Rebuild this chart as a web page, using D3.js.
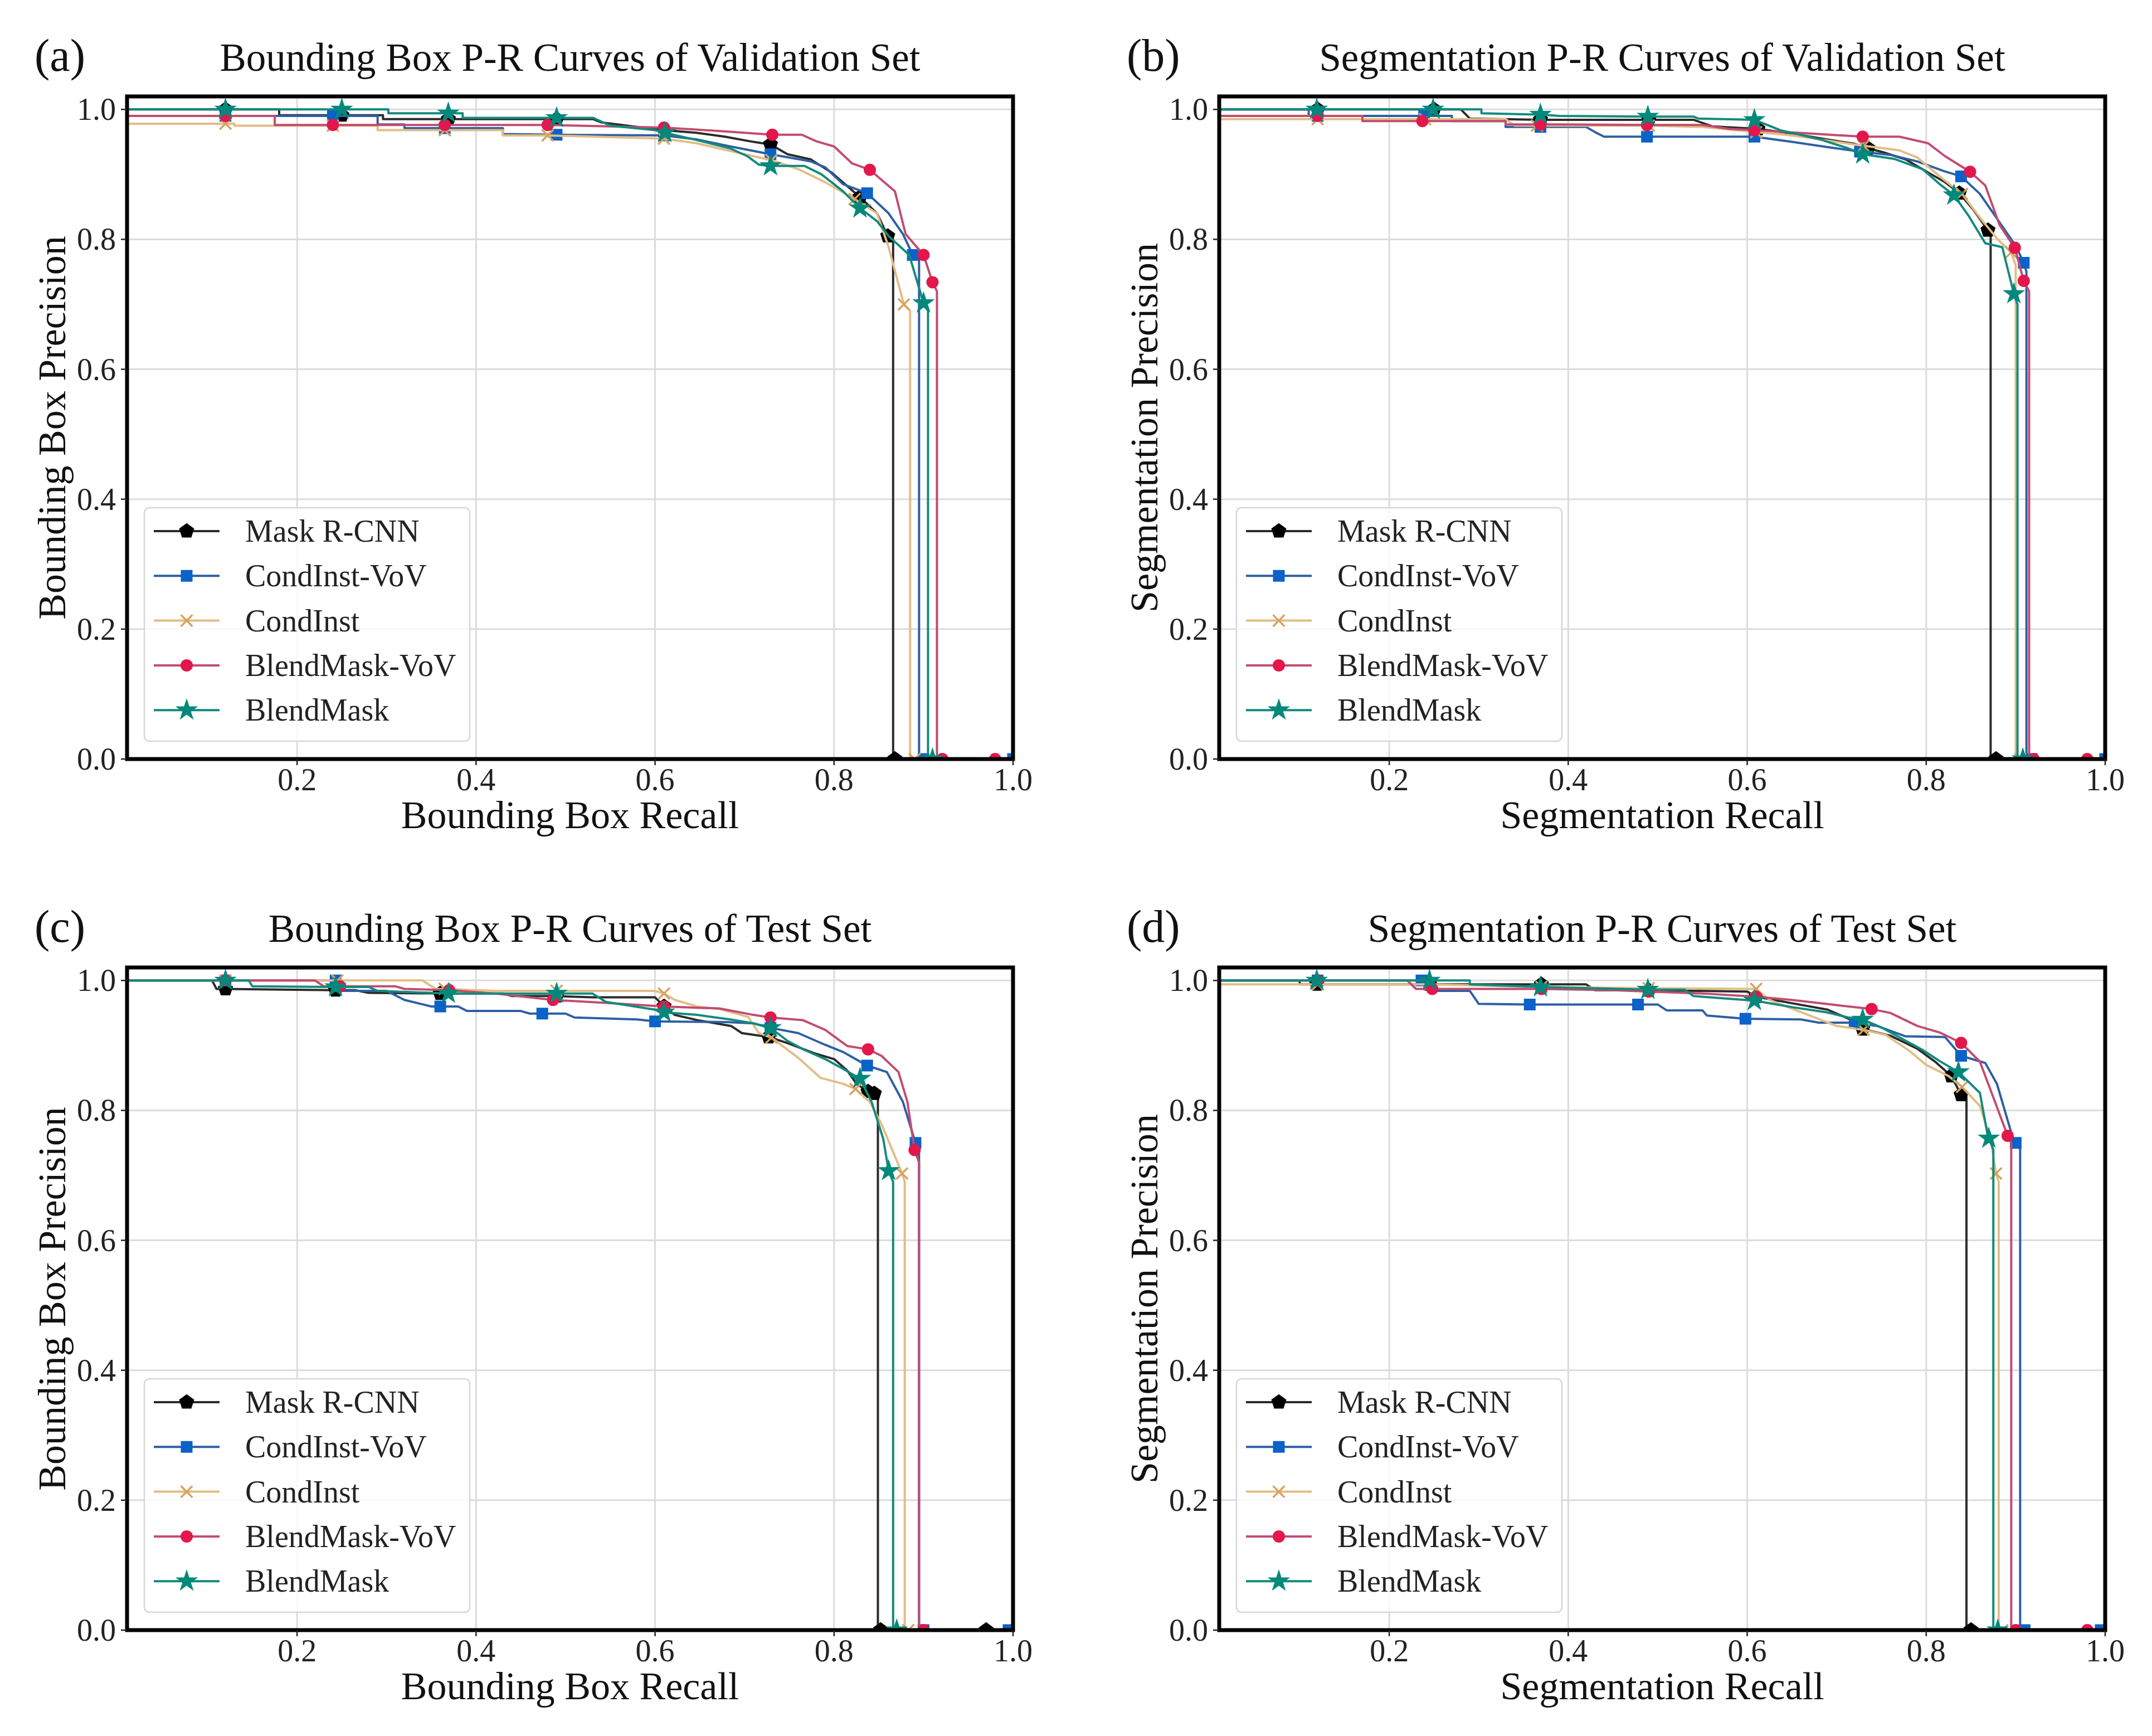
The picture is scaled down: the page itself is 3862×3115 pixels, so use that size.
<!DOCTYPE html>
<html>
<head>
<meta charset="utf-8">
<script src="https://cdn.jsdelivr.net/npm/d3@7"></script>
<style>
  body { margin: 0; background: #fff; }
</style>
</head>
<body>
<div id="chart"></div>
<script>
// labels and ticks
const seriesNames = ["Mask R-CNN", "CondInst-VoV", "CondInst", "BlendMask-VoV", "BlendMask"];
const panelLetters = ["(a)", "(b)", "(c)", "(d)"];
const panelTitles = ["Bounding Box P-R Curves of Validation Set", "Segmentation P-R Curves of Validation Set",
                     "Bounding Box P-R Curves of Test Set", "Segmentation P-R Curves of Test Set"];
const xLabels = ["Bounding Box Recall", "Segmentation Recall", "Bounding Box Recall", "Segmentation Recall"];
const yLabels = ["Bounding Box Precision", "Segmentation Precision", "Bounding Box Precision", "Segmentation Precision"];
const xTicks = [0.2, 0.4, 0.6, 0.8, 1.0];
const yTicks = [0.0, 0.2, 0.4, 0.6, 0.8, 1.0];

// [recall, precision, marker?]  -- (a) bounding box, validation
const bbVal_maskrcnn = [[0.01,1.0],[0.12,1.0,1],[0.18,1.0],[0.18,0.991],[0.25,0.991,1],[0.296,0.991],[0.296,0.985],[0.369,0.985,1],[0.49,0.985,1],[0.531,0.985],[0.54,0.98],[0.563,0.976],[0.61,0.968,1],[0.646,0.964],[0.678,0.958],[0.71,0.95],[0.729,0.946,1],[0.748,0.931],[0.774,0.923],[0.797,0.903],[0.829,0.865,1],[0.848,0.84],[0.86,0.805,1],[0.866,0.8],[0.866,0],[0.868,0,1],[1.0,0]];
const bbVal_condinstvov = [[0.01,0.99],[0.12,0.99,1],[0.24,0.99,1],[0.29,0.99],[0.29,0.977],[0.32,0.977],[0.32,0.971],[0.365,0.971,1],[0.43,0.971],[0.43,0.962],[0.49,0.961,1],[0.61,0.96,1],[0.646,0.954],[0.684,0.943],[0.729,0.931,1],[0.774,0.92],[0.79,0.911],[0.81,0.885],[0.837,0.871,1],[0.861,0.84],[0.877,0.808],[0.888,0.776,1],[0.895,0.77],[0.895,0],[0.9,0,1],[1.0,0,1]];
const bbVal_condinst = [[0.01,0.978],[0.12,0.978,1],[0.13,0.978],[0.13,0.975],[0.24,0.975,1],[0.29,0.975],[0.29,0.968],[0.365,0.968,1],[0.43,0.968],[0.43,0.96],[0.48,0.96,1],[0.61,0.955,1],[0.646,0.948],[0.71,0.928],[0.73,0.922,1],[0.76,0.908],[0.79,0.888],[0.823,0.862,1],[0.848,0.84],[0.861,0.788],[0.878,0.70,1],[0.885,0.69],[0.885,0],[0.89,0,1],[1.0,0]];
const bbVal_blendmaskvov = [[0.01,0.99],[0.12,0.99,1],[0.175,0.99],[0.175,0.976],[0.24,0.976,1],[0.365,0.976,1],[0.48,0.976,1],[0.61,0.972,1],[0.646,0.969],[0.68,0.966],[0.731,0.961,1],[0.764,0.961],[0.78,0.951],[0.80,0.943],[0.82,0.917],[0.84,0.907,1],[0.868,0.874],[0.88,0.808],[0.9,0.776,1],[0.91,0.734,1],[0.915,0.72],[0.915,0],[0.921,0,1],[0.98,0,1],[1.0,0]];
const bbVal_blendmask = [[0.01,1.0],[0.12,1.0,1],[0.25,1.0,1],[0.302,1.0],[0.302,0.994],[0.369,0.994,1],[0.385,0.994],[0.385,0.987],[0.49,0.987,1],[0.531,0.987],[0.55,0.975],[0.6,0.968],[0.611,0.964,1],[0.646,0.953],[0.684,0.94],[0.703,0.928],[0.716,0.915],[0.729,0.913,1],[0.767,0.913],[0.786,0.9],[0.81,0.874],[0.829,0.848,1],[0.848,0.828],[0.861,0.805],[0.884,0.776],[0.9,0.702,1],[0.905,0.69],[0.905,0],[0.91,0,1],[1.0,0]];

// (b) segmentation, validation
const segVal_maskrcnn = [[0.01,1.0],[0.12,1.0,1],[0.25,1.0,1],[0.28,1.0],[0.29,0.986],[0.369,0.984,1],[0.49,0.984,1],[0.54,0.984],[0.561,0.974],[0.612,0.97,1],[0.65,0.963],[0.688,0.954],[0.72,0.947],[0.735,0.94,1],[0.752,0.934],[0.777,0.923],[0.802,0.903],[0.821,0.888],[0.837,0.871,1],[0.853,0.845],[0.869,0.814,1],[0.872,0.81],[0.872,0],[0.878,0,1],[1.0,0]];
const segVal_condinstvov = [[0.01,1.0],[0.11,1.0],[0.11,0.99],[0.12,0.99,1],[0.239,0.99,1],[0.27,0.99],[0.27,0.982],[0.33,0.982],[0.33,0.973],[0.369,0.973,1],[0.42,0.973],[0.43,0.965],[0.44,0.958],[0.488,0.958,1],[0.608,0.958,1],[0.65,0.95],[0.69,0.942],[0.726,0.935,1],[0.76,0.93],[0.79,0.92],[0.82,0.905],[0.839,0.897,1],[0.86,0.87],[0.88,0.83],[0.9,0.79],[0.909,0.764,1],[0.912,0.75],[0.912,0],[0.918,0,1],[1.0,0,1]];
const segVal_condinst = [[0.01,0.985],[0.12,0.985,1],[0.24,0.985,1],[0.33,0.985],[0.34,0.975],[0.365,0.975,1],[0.49,0.975,1],[0.55,0.973],[0.61,0.965,1],[0.65,0.96],[0.71,0.948],[0.73,0.944,1],[0.77,0.937],[0.79,0.926],[0.815,0.897],[0.84,0.87,1],[0.862,0.83],[0.88,0.8],[0.895,0.78,1],[0.9,0.76],[0.9,0],[0.905,0,1],[1.0,0]];
const segVal_blendmaskvov = [[0.01,0.99],[0.12,0.99,1],[0.17,0.99],[0.17,0.982],[0.237,0.982,1],[0.33,0.982],[0.33,0.977],[0.369,0.977,1],[0.488,0.976,1],[0.55,0.976],[0.58,0.97],[0.608,0.968,1],[0.68,0.962],[0.729,0.958,1],[0.77,0.958],[0.802,0.948],[0.821,0.928],[0.849,0.904,1],[0.866,0.883],[0.882,0.822],[0.899,0.787,1],[0.909,0.736,1],[0.915,0.72],[0.915,0],[0.92,0,1],[0.98,0,1],[1.0,0]];
const segVal_blendmask = [[0.01,1.0],[0.119,1.0,1],[0.249,1.0,1],[0.303,1.0],[0.303,0.994],[0.369,0.992,1],[0.39,0.99],[0.489,0.989,1],[0.54,0.989],[0.545,0.986],[0.608,0.984,1],[0.637,0.968],[0.681,0.954],[0.713,0.94],[0.729,0.931,1],[0.764,0.924],[0.796,0.908],[0.815,0.885],[0.831,0.868,1],[0.847,0.837],[0.866,0.794],[0.885,0.788],[0.898,0.716,1],[0.902,0.7],[0.902,0],[0.908,0,1],[1.0,0]];

// (c) bounding box, test
const bbTest_maskrcnn = [[0.01,1.0],[0.105,1.0],[0.11,0.987],[0.12,0.987,1],[0.243,0.985,1],[0.265,0.985],[0.28,0.981],[0.36,0.98,1],[0.43,0.98],[0.44,0.976],[0.49,0.976,1],[0.53,0.974],[0.6,0.974],[0.61,0.96,1],[0.622,0.947],[0.647,0.939],[0.685,0.93],[0.697,0.919],[0.727,0.913,1],[0.747,0.904],[0.78,0.887],[0.8,0.879],[0.815,0.861],[0.825,0.841],[0.838,0.829,1],[0.845,0.826,1],[0.849,0.82],[0.849,0],[0.852,0,1],[0.97,0,1],[1.0,0]];
const bbTest_condinstvov = [[0.01,1.0],[0.12,1.0,1],[0.243,1.0,1],[0.25,1.0],[0.25,0.984],[0.3,0.984],[0.32,0.97],[0.35,0.96],[0.36,0.96,1],[0.38,0.96],[0.39,0.953],[0.45,0.953],[0.46,0.949],[0.474,0.949,1],[0.5,0.949],[0.51,0.943],[0.58,0.94],[0.6,0.937,1],[0.68,0.936],[0.71,0.934],[0.729,0.927,1],[0.76,0.919],[0.79,0.901],[0.81,0.89],[0.837,0.869,1],[0.859,0.859],[0.877,0.813],[0.891,0.75,1],[0.895,0.74],[0.895,0],[0.9,0,1],[0.995,0,1],[1.0,0]];
const bbTest_condinst = [[0.01,1.0],[0.12,1.0,1],[0.245,1.0,1],[0.34,1.0],[0.355,0.987],[0.365,0.987,1],[0.42,0.984],[0.49,0.984,1],[0.6,0.984],[0.61,0.98,1],[0.622,0.97],[0.647,0.96],[0.672,0.956],[0.704,0.944],[0.716,0.919],[0.73,0.912,1],[0.76,0.881],[0.785,0.85],[0.81,0.841],[0.824,0.833,1],[0.84,0.813],[0.853,0.779],[0.876,0.703,1],[0.879,0.69],[0.879,0],[0.883,0,1],[1.0,0]];
const bbTest_blendmaskvov = [[0.01,1.0],[0.12,1.0,1],[0.22,1.0],[0.23,0.991],[0.248,0.991,1],[0.31,0.991],[0.32,0.987],[0.37,0.985,1],[0.42,0.98],[0.486,0.97,1],[0.55,0.965],[0.61,0.96,1],[0.647,0.958],[0.672,0.957],[0.71,0.947],[0.729,0.943,1],[0.765,0.939],[0.79,0.924],[0.815,0.899],[0.838,0.894,1],[0.853,0.884],[0.872,0.859],[0.882,0.813],[0.89,0.739,1],[0.895,0.72],[0.895,0],[0.9,0,1],[1.0,0]];
const bbTest_blendmask = [[0.01,1.0],[0.12,1.0,1],[0.146,1.0],[0.15,0.991],[0.243,0.99,1],[0.28,0.99],[0.29,0.984],[0.369,0.98,1],[0.49,0.98,1],[0.53,0.98],[0.545,0.967],[0.6,0.955],[0.61,0.951,1],[0.647,0.947],[0.684,0.94],[0.71,0.934],[0.729,0.927,1],[0.748,0.907],[0.767,0.893],[0.79,0.879],[0.81,0.864],[0.829,0.849,1],[0.842,0.813],[0.855,0.756],[0.861,0.707,1],[0.866,0.69],[0.866,0],[0.87,0,1],[1.0,0]];

// (d) segmentation, test
const segTest_maskrcnn = [[0.01,1.0],[0.1,1.0],[0.1,0.994],[0.119,0.994,1],[0.245,0.994,1],[0.37,0.994,1],[0.42,0.994],[0.43,0.985],[0.49,0.985,1],[0.6,0.983],[0.61,0.975,1],[0.65,0.965],[0.69,0.955],[0.715,0.94],[0.729,0.925,1],[0.76,0.915],[0.79,0.895],[0.81,0.875],[0.828,0.853,1],[0.839,0.824,1],[0.845,0.82],[0.845,0],[0.85,0,1],[1.0,0]];
const segTest_condinstvov = [[0.01,1.0],[0.12,1.0,1],[0.236,1.0,1],[0.25,1.0],[0.25,0.984],[0.29,0.984],[0.3,0.964],[0.357,0.963,1],[0.478,0.963,1],[0.5,0.963],[0.51,0.954],[0.55,0.954],[0.555,0.946],[0.598,0.941,1],[0.66,0.94],[0.68,0.935],[0.72,0.935,1],[0.745,0.93],[0.777,0.914],[0.821,0.913],[0.839,0.884,1],[0.866,0.873],[0.879,0.841],[0.898,0.752],[0.9,0.75,1],[0.905,0.74],[0.905,0],[0.91,0,1],[0.995,0,1],[1.0,0]];
const segTest_condinst = [[0.01,0.994],[0.12,0.994,1],[0.245,0.994,1],[0.37,0.99,1],[0.49,0.988,1],[0.61,0.987,1],[0.625,0.97],[0.7,0.93],[0.73,0.924,1],[0.755,0.916],[0.78,0.893],[0.8,0.87],[0.825,0.853],[0.84,0.836,1],[0.86,0.807],[0.872,0.756],[0.878,0.703,1],[0.881,0.69],[0.881,0],[0.885,0,1],[1.0,0]];
const segTest_blendmaskvov = [[0.01,1.0],[0.12,1.0,1],[0.22,1.0],[0.23,0.987],[0.248,0.987,1],[0.37,0.987,1],[0.45,0.985],[0.49,0.983,1],[0.55,0.98],[0.61,0.975,1],[0.65,0.97],[0.7,0.962],[0.739,0.956,1],[0.76,0.95],[0.79,0.93],[0.815,0.92],[0.839,0.904,1],[0.86,0.875],[0.875,0.82],[0.891,0.761,1],[0.895,0.75],[0.895,0],[0.9,0,1],[0.98,0,1],[1.0,0]];
const segTest_blendmask = [[0.01,1.0],[0.119,1.0,1],[0.245,1.0,1],[0.29,1.0],[0.29,0.994],[0.369,0.99,1],[0.489,0.986,1],[0.53,0.986],[0.54,0.976],[0.608,0.969,1],[0.65,0.959],[0.689,0.951],[0.713,0.943],[0.729,0.94,1],[0.751,0.927],[0.796,0.893],[0.815,0.876],[0.836,0.859,1],[0.86,0.827],[0.869,0.759],[0.87,0.757,1],[0.875,0.74],[0.875,0],[0.88,0,1],[1.0,0]];

const panelSeries = [
  [bbVal_maskrcnn, bbVal_condinstvov, bbVal_condinst, bbVal_blendmaskvov, bbVal_blendmask],
  [segVal_maskrcnn, segVal_condinstvov, segVal_condinst, segVal_blendmaskvov, segVal_blendmask],
  [bbTest_maskrcnn, bbTest_condinstvov, bbTest_condinst, bbTest_blendmaskvov, bbTest_blendmask],
  [segTest_maskrcnn, segTest_condinstvov, segTest_condinst, segTest_blendmaskvov, segTest_blendmask]
];

// styles
const lineColors = ["#2b2b2b", "#2e5fa3", "#e2bd86", "#c24c70", "#138a7c"];
const markColors = ["#000000", "#0b62c8", "#d6a35f", "#e3174b", "#00897b"];
const font = "'Liberation Serif', 'Times New Roman', serif";

// matplotlib-like pentagon and x markers
const pentagon = {
  draw(ctx, size) {
    const r = Math.sqrt(size / 2.378);
    for (let i = 0; i < 5; i++) {
      const a = -Math.PI / 2 + i * 2 * Math.PI / 5;
      if (i === 0) ctx.moveTo(r * Math.cos(a), r * Math.sin(a));
      else ctx.lineTo(r * Math.cos(a), r * Math.sin(a));
    }
    ctx.closePath();
  }
};
const xMark = {
  draw(ctx, size) {
    const r = Math.sqrt(size) / 2;
    ctx.moveTo(-r, -r); ctx.lineTo(r, r);
    ctx.moveTo(-r, r); ctx.lineTo(r, -r);
  }
};
const symTypes = [pentagon, d3.symbolSquare, xMark, d3.symbolCircle, d3.symbolStar];
const symSizes = [420, 380, 430, 330, 400];

const W = 3862, H = 3115;
const pw = 1590, ph = 1189;
const panelPos = [[228, 173], [2188, 173], [228, 1736], [2188, 1736]];

const svg = d3.select("#chart")
  .append("svg")
    .attr("width", W)
    .attr("height", H)
    .style("font-family", font);

svg.append("rect").attr("width", W).attr("height", H).attr("fill", "#fff");

function drawMarker(sel, i, cx, cy) {
  const path = d3.symbol().type(symTypes[i]).size(symSizes[i])();
  const m = sel.append("path")
    .attr("d", path)
    .attr("transform", `translate(${cx},${cy})`);
  if (i === 2) {
    m.attr("fill", "none").attr("stroke", markColors[i]).attr("stroke-width", 3.5);
  } else {
    m.attr("fill", markColors[i]).attr("stroke", markColors[i]).attr("stroke-width", 1.5);
  }
}

panelSeries.forEach(function(series, k) {
  const [left, top] = panelPos[k];
  const g = svg.append("g").attr("transform", `translate(${left},${top})`);

  const x = d3.scaleLinear().domain([0.01, 1.0]).range([0, pw]);
  const y = d3.scaleLinear().domain([0, 1.02]).range([ph, 0]);

  // grid
  g.selectAll(".gx").data(xTicks).join("line")
    .attr("x1", d => x(d)).attr("x2", d => x(d))
    .attr("y1", 0).attr("y2", ph)
    .attr("stroke", "#dcdcdc").attr("stroke-width", 3);
  g.selectAll(".gy").data(yTicks).join("line")
    .attr("x1", 0).attr("x2", pw)
    .attr("y1", d => y(d)).attr("y2", d => y(d))
    .attr("stroke", "#dcdcdc").attr("stroke-width", 3);

  // curves
  const clipId = "clip" + k;
  g.append("clipPath").attr("id", clipId)
    .append("rect").attr("width", pw).attr("height", ph);
  const plot = g.append("g").attr("clip-path", `url(#${clipId})`);

  const line = d3.line().x(d => x(d[0])).y(d => y(d[1]));
  series.forEach(function(pts, i) {
    const sg = plot.append("g");
    sg.append("path")
      .attr("d", line(pts))
      .attr("fill", "none")
      .attr("stroke", lineColors[i])
      .attr("stroke-width", 4)
      .attr("stroke-linejoin", "round");
    pts.filter(d => d[2]).forEach(d => drawMarker(sg, i, x(d[0]), y(d[1])));
  });

  // frame
  g.append("rect")
    .attr("width", pw).attr("height", ph)
    .attr("fill", "none").attr("stroke", "#000").attr("stroke-width", 7);

  // ticks
  g.selectAll(".ty").data(yTicks).join("line")
    .attr("x1", -11).attr("x2", 0)
    .attr("y1", d => y(d)).attr("y2", d => y(d))
    .attr("stroke", "#222").attr("stroke-width", 2.5);
  g.selectAll(".tyl").data(yTicks).join("text")
    .attr("x", -20).attr("y", d => y(d) + 19)
    .attr("text-anchor", "end")
    .attr("font-size", 56).attr("fill", "#222")
    .text(d => d.toFixed(1));
  g.selectAll(".tx").data(xTicks).join("line")
    .attr("x1", d => x(d)).attr("x2", d => x(d))
    .attr("y1", ph).attr("y2", ph + 11)
    .attr("stroke", "#222").attr("stroke-width", 2.5);
  g.selectAll(".txl").data(xTicks).join("text")
    .attr("x", d => x(d)).attr("y", ph + 56)
    .attr("text-anchor", "middle")
    .attr("font-size", 56).attr("fill", "#222")
    .text(d => d.toFixed(1));

  // labels
  g.append("text")
    .attr("x", pw / 2).attr("y", ph + 124)
    .attr("text-anchor", "middle").attr("font-size", 70).attr("fill", "#111")
    .text(xLabels[k]);
  g.append("text")
    .attr("transform", `translate(-111,${ph / 2}) rotate(-90)`)
    .attr("text-anchor", "middle").attr("font-size", 70).attr("fill", "#111")
    .text(yLabels[k]);
  g.append("text")
    .attr("x", pw / 2).attr("y", -46)
    .attr("text-anchor", "middle").attr("font-size", 71).attr("fill", "#111")
    .text(panelTitles[k]);
  g.append("text")
    .attr("x", -166).attr("y", -46)
    .attr("font-size", 82).attr("fill", "#111")
    .text(panelLetters[k]);

  // legend
  const lg = g.append("g").attr("transform", `translate(31,${ph - 32 - 419})`);
  lg.append("rect")
    .attr("width", 584).attr("height", 419).attr("rx", 9)
    .attr("fill", "#fff").attr("fill-opacity", 0.8)
    .attr("stroke", "#d6d6d6").attr("stroke-width", 2.5);
  seriesNames.forEach(function(name, i) {
    const cy = 42 + i * 80.3;
    lg.append("line")
      .attr("x1", 17).attr("x2", 135).attr("y1", cy).attr("y2", cy)
      .attr("stroke", lineColors[i]).attr("stroke-width", 4);
    drawMarker(lg, i, 76, cy);
    lg.append("text")
      .attr("x", 181).attr("y", cy + 19)
      .attr("font-size", 56).attr("fill", "#222")
      .text(name);
  });
});
</script>
</body>
</html>
